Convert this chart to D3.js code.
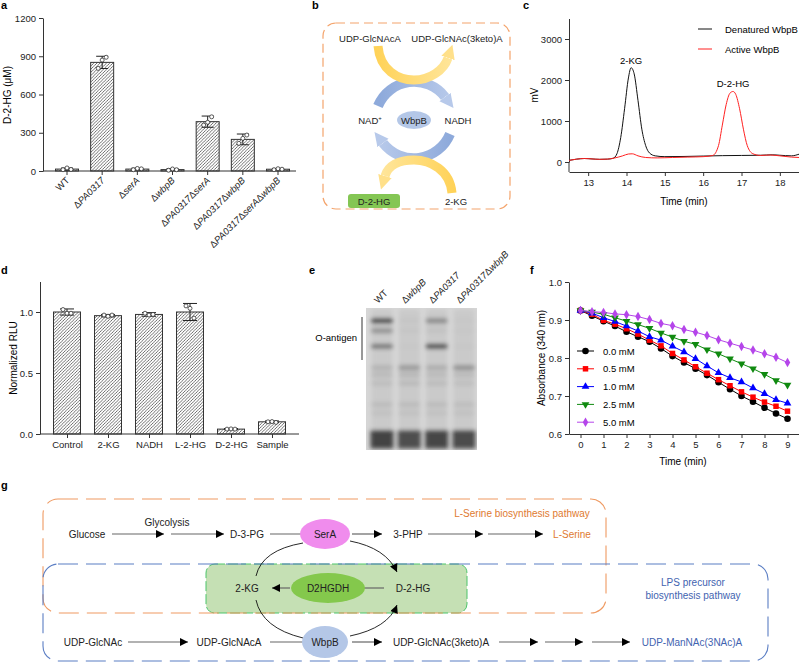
<!DOCTYPE html>
<html lang="en">
<head>
<meta charset="UTF-8">
<title>Figure</title>
<style>
  body, html { margin: 0; padding: 0; background: #fff; }
  svg { display: block; font-family: Arial, "Liberation Sans", Helvetica, sans-serif; }
  .axis path, .axis line { stroke: #333; }
  .axis text { fill: #222; font-size: 9.5px; font-family: Arial, "Liberation Sans", sans-serif; }
  .plab { font-weight: bold; font-size: 11px; fill: #000; }
</style>
</head>
<body>
<svg id="svg" width="799" height="664"></svg>
<script src="https://d3js.org/d3.v7.min.js"></script>
<script>
// ---------- data ----------
// panel a
const strainsA = ['WT', 'ΔPA0317', 'ΔserA', 'ΔwbpB', 'ΔPA0317ΔserA', 'ΔPA0317ΔwbpB', 'ΔPA0317ΔserAΔwbpB']
const d2hgMean = [15, 852, 15, 11, 387, 248, 14]
const d2hgSd = [8, 48, 7, 7, 44, 42, 6]
const d2hgPts = [[10, 24, 12], [805, 870, 892], [10, 20, 17], [6, 16, 10], [360, 382, 425], [217, 256, 282], [10, 18, 14]]
const d2hgTicks = [0, 300, 600, 900, 1200]

// panel c
const timeDen = [12.5, 12.7, 12.9, 13.1, 13.3, 13.5, 13.65, 13.75, 13.85, 13.95, 14.05, 14.12, 14.2, 14.3, 14.4, 14.5, 14.6, 14.75, 15.0, 15.5, 16.0, 16.5, 17.0, 17.5, 17.8, 18.0, 18.3, 18.5]
const mvDen = [40, 70, 85, 75, 65, 70, 90, 200, 600, 1300, 2050, 2300, 2150, 1500, 800, 400, 220, 150, 130, 135, 145, 155, 160, 165, 175, 165, 150, 190]
const timeAct = [12.5, 12.7, 12.9, 13.1, 13.3, 13.5, 13.7, 13.9, 14.05, 14.15, 14.3, 14.5, 14.8, 15.2, 15.6, 16.0, 16.25, 16.4, 16.5, 16.6, 16.7, 16.78, 16.85, 16.95, 17.05, 17.15, 17.3, 17.5, 17.75, 18.0, 18.3, 18.5]
const mvAct = [40, 70, 85, 75, 65, 70, 100, 150, 195, 200, 150, 110, 100, 110, 120, 130, 160, 400, 900, 1400, 1680, 1720, 1650, 1300, 800, 400, 200, 160, 170, 150, 120, 110]
const mvTicks = [0, 1000, 2000, 3000]
const timeTicksC = [13, 14, 15, 16, 17, 18]

// panel d
const rluGroups = ['Control', '2-KG', 'NADH', 'L-2-HG', 'D-2-HG', 'Sample']
const rluMean = [1.0, 0.97, 0.98, 1.0, 0.04, 0.1]
const rluSd = [0.025, 0.01, 0.015, 0.07, 0.005, 0.007]
const rluPts = [[1.02, 0.99, 0.99], [0.975, 0.965, 0.975], [0.99, 0.975, 0.98], [1.05, 1.03, 0.95], [0.04, 0.042, 0.04], [0.1, 0.102, 0.095]]
const rluTicks = [0, 0.5, 1.0]

// panel e (gel): band position (fraction of lane from the well) and darkness for each lane
const gelLanes = ['WT', 'ΔwbpB', 'ΔPA0317', 'ΔPA0317ΔwbpB']
const bandPos = [0.09, 0.16, 0.27, 0.42, 0.47, 0.53, 0.68, 0.74]
const bandWT = [0.8, 0.35, 0.5, 0.14, 0.1, 0.08, 0.09, 0.06]
const bandWbpB = [0.03, 0.03, 0.02, 0.3, 0.12, 0.1, 0.09, 0.06]
const bandPA = [0.4, 0.05, 0.75, 0.18, 0.1, 0.09, 0.09, 0.06]
const bandPAwbpB = [0.02, 0.02, 0.02, 0.35, 0.1, 0.07, 0.08, 0.06]
const blobDark = [0.85, 0.78, 0.82, 0.8]

// panel f
const timeF = [0, 0.5, 1, 1.5, 2, 2.5, 3, 3.5, 4, 4.5, 5, 5.5, 6, 6.5, 7, 7.5, 8, 8.5, 9]
const abs00 = [0.925, 0.911, 0.897, 0.884, 0.869, 0.856, 0.843, 0.825, 0.805, 0.788, 0.772, 0.755, 0.736, 0.718, 0.700, 0.685, 0.669, 0.654, 0.640]
const abs05 = [0.925, 0.915, 0.899, 0.889, 0.877, 0.863, 0.847, 0.832, 0.812, 0.795, 0.777, 0.760, 0.743, 0.727, 0.711, 0.697, 0.684, 0.673, 0.660]
const abs10 = [0.925, 0.918, 0.906, 0.896, 0.884, 0.871, 0.856, 0.847, 0.831, 0.816, 0.798, 0.779, 0.761, 0.748, 0.737, 0.721, 0.706, 0.690, 0.681]
const abs25 = [0.925, 0.921, 0.915, 0.906, 0.897, 0.888, 0.878, 0.866, 0.855, 0.844, 0.836, 0.822, 0.811, 0.798, 0.785, 0.772, 0.757, 0.741, 0.729]
const abs50 = [0.925, 0.922, 0.920, 0.916, 0.914, 0.909, 0.901, 0.891, 0.885, 0.875, 0.868, 0.859, 0.848, 0.839, 0.830, 0.821, 0.811, 0.802, 0.788]
const concLabels = ['0.0 mM', '0.5 mM', '1.0 mM', '2.5 mM', '5.0 mM']
const absTicks = [0.6, 0.7, 0.8, 0.9, 1.0]
const timeTicksF = [0, 1, 2, 3, 4, 5, 6, 7, 8, 9]

const svg = d3.select('#svg')
const defs = svg.append('defs')

// hatch pattern for bars
defs.append('pattern')
  .attr('id', 'hatch')
  .attr('patternUnits', 'userSpaceOnUse')
  .attr('width', 3.2).attr('height', 3.2)
  .append('path')
  .attr('d', 'M-0.8,0.8 l1.6,-1.6 M0,3.2 l3.2,-3.2 M2.4,4 l1.6,-1.6')
  .attr('stroke', '#333').attr('stroke-width', 0.7)

function marker(id, color, w, h, units) {
  defs.append('marker')
    .attr('id', id)
    .attr('viewBox', '0 0 10 10')
    .attr('refX', units ? 0 : 10).attr('refY', 5)
    .attr('markerWidth', w).attr('markerHeight', h)
    .attr('markerUnits', 'userSpaceOnUse')
    .attr('orient', 'auto')
    .append('path').attr('d', 'M0,0 L10,5 L0,10 z').attr('fill', color)
}
marker('tri', '#000', 9, 8, false)
marker('yel', '#ffe08a', 14, 20, true)
marker('blu', '#b7c9ea', 14, 20, true)

function grad(id, x1, y1, x2, y2, c1, c2) {
  const g = defs.append('linearGradient').attr('id', id)
    .attr('gradientUnits', 'userSpaceOnUse')
    .attr('x1', x1).attr('y1', y1).attr('x2', x2).attr('y2', y2)
  g.append('stop').attr('offset', 0).attr('stop-color', c1)
  g.append('stop').attr('offset', 1).attr('stop-color', c2)
}

defs.append('filter').attr('id', 'blur')
  .attr('x', '-20%').attr('y', '-20%').attr('width', '140%').attr('height', '140%')
  .append('feGaussianBlur').attr('stdDeviation', 2)

// label helper: Δ normal, gene names italic
function geneLabel(sel, s) {
  if (s === 'WT') { sel.text(s); return }
  s.split('Δ').filter(p => p).forEach(p => {
    sel.append('tspan').text('Δ')
    sel.append('tspan').style('font-style', 'italic').text(p)
  })
}

// panel labels
const panelLabels = [['a', 1, 9], ['b', 312, 9], ['c', 523, 9], ['d', 1, 274], ['e', 309, 274], ['f', 530, 274], ['g', 1, 489]]
svg.selectAll('.plab').data(panelLabels).enter().append('text')
  .attr('class', 'plab').attr('x', d => d[1]).attr('y', d => d[2]).text(d => d[0])

// ---------- panel a ----------
{
  const y = d3.scaleLinear().domain([0, 1200]).range([171, 18])
  const x = d3.scalePoint().domain(strainsA).range([67, 278])
  const bw = 23
  const g = svg.append('g')
  g.append('g').attr('class', 'axis').attr('transform', 'translate(43,0)')
    .call(d3.axisLeft(y).tickValues(d2hgTicks).tickFormat(d3.format('d')).tickSize(4).tickSizeOuter(0))
  g.append('line').attr('x1', 43).attr('x2', 296).attr('y1', 171).attr('y2', 171).attr('stroke', '#333')
  g.selectAll('.tk').data(strainsA).enter().append('line')
    .attr('x1', d => x(d)).attr('x2', d => x(d)).attr('y1', 171).attr('y2', 175).attr('stroke', '#333')
  g.selectAll('.bar').data(strainsA).enter().append('rect')
    .attr('x', d => x(d) - bw / 2).attr('width', bw)
    .attr('y', (d, i) => y(d2hgMean[i])).attr('height', (d, i) => 171 - y(d2hgMean[i]))
    .attr('fill', 'url(#hatch)').attr('stroke', '#333').attr('stroke-width', 1)
  strainsA.forEach((s, i) => {
    const cx = x(s), hi = y(d2hgMean[i] + d2hgSd[i]), lo = y(Math.max(0, d2hgMean[i] - d2hgSd[i]))
    g.append('line').attr('x1', cx).attr('x2', cx).attr('y1', hi).attr('y2', lo).attr('stroke', '#222')
    ;[hi, lo].forEach(v => g.append('line').attr('x1', cx - 6).attr('x2', cx + 6).attr('y1', v).attr('y2', v).attr('stroke', '#222'))
    d2hgPts[i].forEach((p, k) => g.append('circle').attr('cx', cx + (k - 1) * 4).attr('cy', y(p)).attr('r', 2)
      .attr('fill', '#fff').attr('stroke', '#333').attr('stroke-width', 0.8))
  })
  strainsA.forEach(s => {
    const t = g.append('text').attr('font-size', 9.5).attr('fill', '#222').attr('text-anchor', 'end')
      .attr('transform', `translate(${x(s) + 3},${181}) rotate(-45)`)
    geneLabel(t, s)
  })
  g.append('text').attr('transform', 'translate(11,95) rotate(-90)').attr('text-anchor', 'middle')
    .attr('font-size', 10).text('D-2-HG (μM)')
}

// ---------- panel b ----------
{
  const g = svg.append('g')
  g.append('rect').attr('x', 323).attr('y', 23).attr('width', 187).attr('height', 186).attr('rx', 13)
    .attr('fill', 'none').attr('stroke', '#f4a46c').attr('stroke-width', 1.2).attr('stroke-dasharray', '9,5')
  grad('gY1', 375, 0, 455, 0, '#ffd257', '#ffe69c')
  grad('gY2', 455, 0, 380, 0, '#ffd257', '#ffe69c')
  grad('gB1', 380, 0, 450, 0, '#8eaadb', '#b7c9ea')
  grad('gB2', 450, 0, 380, 0, '#8eaadb', '#b7c9ea')
  g.append('path').attr('d', 'M378,106 A39,39 0 0 1 445,97').attr('fill', 'none')
    .attr('stroke', 'url(#gB1)').attr('stroke-width', 10).attr('marker-end', 'url(#blu)')
  g.append('path').attr('d', 'M450,134 A39,39 0 0 1 383,143').attr('fill', 'none')
    .attr('stroke', 'url(#gB2)').attr('stroke-width', 10).attr('marker-end', 'url(#blu)')
  g.append('path').attr('d', 'M378,46 C380,70 398,80 414,80 C430,80 444,70 448,58').attr('fill', 'none')
    .attr('stroke', 'url(#gY1)').attr('stroke-width', 9).attr('marker-end', 'url(#yel)')
  g.append('path').attr('d', 'M452,193 C450,170 430,160 414,160 C398,160 388,166 385,176').attr('fill', 'none')
    .attr('stroke', 'url(#gY2)').attr('stroke-width', 9).attr('marker-end', 'url(#yel)')
  g.append('ellipse').attr('cx', 414).attr('cy', 120).attr('rx', 17).attr('ry', 9).attr('fill', '#b4c7e7')
  g.append('rect').attr('x', 348).attr('y', 194).attr('width', 52).attr('height', 14).attr('rx', 3).attr('fill', '#84c654')
  const txt = [['UDP-GlcNAcA', 370, 42], ['UDP-GlcNAc(3keto)A', 457, 42], ['WbpB', 414, 123.5], ['NADH', 458, 123.5], ['D-2-HG', 374, 204.5], ['2-KG', 456, 204.5]]
  g.selectAll('.bt').data(txt).enter().append('text').attr('x', d => d[1]).attr('y', d => d[2])
    .attr('text-anchor', 'middle').attr('font-size', 9.5).attr('fill', '#222').text(d => d[0])
  const nad = g.append('text').attr('x', 370).attr('y', 123.5).attr('text-anchor', 'middle').attr('font-size', 9.5).attr('fill', '#222')
  nad.append('tspan').text('NAD')
  nad.append('tspan').attr('font-size', 6).attr('dy', -4).text('+')
}

// ---------- panel c ----------
{
  const x = d3.scaleLinear().domain([12.5, 18.5]).range([569, 799])
  const y = d3.scaleLinear().domain([0, 3500]).range([162, 18.5])
  const g = svg.append('g')
  g.append('g').attr('class', 'axis').attr('transform', 'translate(569,0)')
    .call(d3.axisLeft(y).tickValues(mvTicks).tickFormat(d3.format('d')).tickSize(4).tickSizeOuter(0))
  g.append('line').attr('x1', 569).attr('x2', 569).attr('y1', 162).attr('y2', 172).attr('stroke', '#333')
  g.append('g').attr('class', 'axis').attr('transform', 'translate(0,172)')
    .call(d3.axisBottom(x).tickValues(timeTicksC).tickFormat(d3.format('d')).tickSize(4).tickSizeOuter(0))
  const line = d3.line().x(d => x(d[0])).y(d => y(d[1])).curve(d3.curveMonotoneX)
  g.append('path').attr('d', line(timeDen.map((t, i) => [t, mvDen[i]]))).attr('fill', 'none').attr('stroke', '#111').attr('stroke-width', 1)
  g.append('path').attr('d', line(timeAct.map((t, i) => [t, mvAct[i]]))).attr('fill', 'none').attr('stroke', '#ff2020').attr('stroke-width', 1)
  g.append('text').attr('x', x(14.12)).attr('y', 64).attr('text-anchor', 'middle').attr('font-size', 9.5).text('2-KG')
  g.append('text').attr('x', x(16.78)).attr('y', 87).attr('text-anchor', 'middle').attr('font-size', 9.5).text('D-2-HG')
  g.append('line').attr('x1', 698).attr('x2', 712).attr('y1', 29).attr('y2', 29).attr('stroke', '#111')
  g.append('text').attr('x', 725).attr('y', 32.5).attr('font-size', 9.5).text('Denatured WbpB')
  g.append('line').attr('x1', 698).attr('x2', 712).attr('y1', 49).attr('y2', 49).attr('stroke', '#ff2020')
  g.append('text').attr('x', 725).attr('y', 52.5).attr('font-size', 9.5).text('Active WbpB')
  g.append('text').attr('transform', 'translate(538,95) rotate(-90)').attr('text-anchor', 'middle').attr('font-size', 10).text('mV')
  g.append('text').attr('x', x(15.5)).attr('y', 205).attr('text-anchor', 'middle').attr('font-size', 10).text('Time (min)')
}

// ---------- panel d ----------
{
  const y = d3.scaleLinear().domain([0, 1.25]).range([434, 281.5])
  const x = d3.scalePoint().domain(rluGroups).range([67, 272])
  const bw = 27
  const g = svg.append('g')
  g.append('g').attr('class', 'axis').attr('transform', 'translate(40,0)')
    .call(d3.axisLeft(y).tickValues(rluTicks).tickFormat(d3.format('.1f')).tickSize(4).tickSizeOuter(0))
  g.append('line').attr('x1', 40).attr('x2', 299).attr('y1', 434).attr('y2', 434).attr('stroke', '#333')
  g.append('g').attr('class', 'axis').attr('transform', 'translate(0,434)')
    .call(d3.axisBottom(x).tickSize(4).tickSizeOuter(0))
    .call(a => a.select('.domain').remove())
  g.selectAll('.bar').data(rluGroups).enter().append('rect')
    .attr('x', d => x(d) - bw / 2).attr('width', bw)
    .attr('y', (d, i) => y(rluMean[i])).attr('height', (d, i) => 434 - y(rluMean[i]))
    .attr('fill', 'url(#hatch)').attr('stroke', '#333').attr('stroke-width', 1)
  rluGroups.forEach((s, i) => {
    const cx = x(s), hi = y(rluMean[i] + rluSd[i]), lo = y(rluMean[i] - rluSd[i])
    g.append('line').attr('x1', cx).attr('x2', cx).attr('y1', hi).attr('y2', lo).attr('stroke', '#222')
    ;[hi, lo].forEach(v => g.append('line').attr('x1', cx - 7).attr('x2', cx + 7).attr('y1', v).attr('y2', v).attr('stroke', '#222'))
    rluPts[i].forEach((p, k) => g.append('circle').attr('cx', cx + (k - 1) * 4).attr('cy', y(p)).attr('r', 2)
      .attr('fill', '#fff').attr('stroke', '#333').attr('stroke-width', 0.8))
  })
  g.append('text').attr('transform', 'translate(17,358) rotate(-90)').attr('text-anchor', 'middle')
    .attr('font-size', 10).text('Normalized RLU')
}

// ---------- panel e ----------
{
  const gy = d3.scaleLinear().domain([0, 1]).range([308, 450])
  const x = d3.scalePoint().domain(gelLanes).range([382, 464])
  const lw = 21
  const lanesData = [bandWT, bandWbpB, bandPA, bandPAwbpB]
  const g = svg.append('g')
  g.append('rect').attr('x', 366).attr('y', gy(0)).attr('width', 111).attr('height', gy(1) - gy(0)).attr('fill', '#d6d6d6')
  g.append('clipPath').attr('id', 'gelclip').append('rect')
    .attr('x', 366).attr('y', gy(0)).attr('width', 111).attr('height', gy(1) - gy(0))
  const gb = g.append('g').attr('clip-path', 'url(#gelclip)').append('g').attr('filter', 'url(#blur)')
  gelLanes.forEach((ln, li) => {
    const cx = x(ln)
    gb.append('rect').attr('x', cx - lw / 2).attr('y', gy(0.01)).attr('width', lw).attr('height', gy(0.99) - gy(0.01))
      .attr('fill', '#b8b8b8').attr('opacity', 0.4)
    bandPos.forEach((p, k) => {
      const v = lanesData[li][k]
      if (v <= 0) return
      gb.append('rect').attr('x', cx - lw / 2).attr('y', gy(p) - 2.5).attr('width', lw).attr('height', 5)
        .attr('fill', '#1a1a1a').attr('opacity', v)
    })
    gb.append('rect').attr('x', cx - lw / 2 - 1).attr('y', gy(0.86)).attr('width', lw + 2).attr('height', gy(0.99) - gy(0.86))
      .attr('fill', '#2a2a2a').attr('opacity', blobDark[li])
  })
  gelLanes.forEach(ln => {
    const t = g.append('text').attr('font-size', 9.5).attr('fill', '#222')
      .attr('transform', `translate(${x(ln) - 4},${304}) rotate(-45)`)
    geneLabel(t, ln)
  })
  g.append('line').attr('x1', 362).attr('x2', 362).attr('y1', 317).attr('y2', 360).attr('stroke', '#333')
  g.append('text').attr('x', 357).attr('y', 341).attr('text-anchor', 'end').attr('font-size', 9.5).text('O-antigen')
}

// ---------- panel f ----------
{
  const x = d3.scaleLinear().domain([-0.5, 9.5]).range([569, 799])
  const y = d3.scaleLinear().domain([0.6, 1.0]).range([434, 282])
  const g = svg.append('g')
  g.append('g').attr('class', 'axis').attr('transform', 'translate(569,0)')
    .call(d3.axisLeft(y).tickValues(absTicks).tickFormat(d3.format('.1f')).tickSize(4).tickSizeOuter(0))
  g.append('g').attr('class', 'axis').attr('transform', 'translate(0,434)')
    .call(d3.axisBottom(x).tickValues(timeTicksF).tickFormat(d3.format('d')).tickSize(4).tickSizeOuter(0))
  const series = [abs00, abs05, abs10, abs25, abs50]
  const colors = ['#000000', '#ff0000', '#0000ff', '#108a10', '#b545ea']
  const shapes = [d3.symbolCircle, d3.symbolSquare, d3.symbolTriangle, d3.symbolTriangle, d3.symbolDiamond]
  const rot = [0, 0, 0, 180, 0]
  const sizes = [34, 30, 26, 26, 26]
  const line = d3.line().x(d => x(d[0])).y(d => y(d[1]))
  series.forEach((s, i) => {
    const pts = timeF.map((t, k) => [t, s[k]])
    g.append('path').attr('d', line(pts)).attr('fill', 'none').attr('stroke', colors[i]).attr('stroke-width', 1)
    g.selectAll('.m' + i).data(pts).enter().append('path')
      .attr('d', d3.symbol().type(shapes[i]).size(sizes[i]))
      .attr('transform', d => `translate(${x(d[0])},${y(d[1])}) rotate(${rot[i]})`)
      .attr('fill', colors[i])
  })
  concLabels.forEach((c, i) => {
    const ly = 351 + i * 17.8
    g.append('line').attr('x1', 577).attr('x2', 594).attr('y1', ly).attr('y2', ly).attr('stroke', colors[i])
    g.append('path').attr('d', d3.symbol().type(shapes[i]).size(sizes[i]))
      .attr('transform', `translate(585.5,${ly}) rotate(${rot[i]})`).attr('fill', colors[i])
    g.append('text').attr('x', 603).attr('y', ly + 3.5).attr('font-size', 9.5).text(c)
  })
  g.append('text').attr('transform', 'translate(545,358) rotate(-90)').attr('text-anchor', 'middle')
    .attr('font-size', 10).text('Absorbance (340 nm)')
  g.append('text').attr('x', 683).attr('y', 465).attr('text-anchor', 'middle').attr('font-size', 10).text('Time (min)')
}

// ---------- panel g ----------
{
  const g = svg.append('g')
  g.append('rect').attr('x', 206).attr('y', 564).attr('width', 261).attr('height', 49).attr('rx', 9)
    .attr('fill', '#c5e0b4').attr('stroke', '#4cc46a').attr('stroke-width', 1).attr('stroke-dasharray', '10,3')
  g.append('rect').attr('x', 43).attr('y', 499).attr('width', 563).attr('height', 114).attr('rx', 15)
    .attr('fill', 'none').attr('stroke', '#ef9a62').attr('stroke-width', 1.1).attr('stroke-dasharray', '20,8')
  g.append('rect').attr('x', 43).attr('y', 564).attr('width', 725).attr('height', 97).attr('rx', 15)
    .attr('fill', 'none').attr('stroke', '#5b7ec4').attr('stroke-width', 1.1).attr('stroke-dasharray', '20,8')

  const arrows = [
    [112, 164, 534, true], [171, 224, 534, true], [270, 305, 534, false], [352, 382, 534, true],
    [428, 483, 534, true], [488, 543, 534, true],
    [364, 384, 588, false], [290, 272, 588, true],
    [128, 188, 642, true], [270, 305, 642, false], [352, 382, 642, true],
    [499, 538, 642, true], [545, 583, 642, true], [592, 630, 642, true]
  ]
  arrows.forEach(a => {
    g.append('line').attr('x1', a[0]).attr('x2', a[1]).attr('y1', a[2]).attr('y2', a[2])
      .attr('stroke', '#666').attr('stroke-width', 1.2).attr('marker-end', a[3] ? 'url(#tri)' : null)
  })
  const curves = [
    ['M256,576 Q262,550 303,543', false], ['M350,541 Q386,548 397,572', true],
    ['M256,600 Q262,628 303,638', false], ['M350,636 Q388,628 397,605', true]
  ]
  curves.forEach(c => g.append('path').attr('d', c[0]).attr('fill', 'none').attr('stroke', '#111')
    .attr('stroke-width', 0.9).attr('marker-end', c[1] ? 'url(#tri)' : null))

  g.append('ellipse').attr('cx', 325).attr('cy', 534).attr('rx', 25).attr('ry', 15).attr('fill', '#f08ced')
  g.append('ellipse').attr('cx', 328).attr('cy', 588).attr('rx', 37).attr('ry', 15).attr('fill', '#84c84c')
  g.append('ellipse').attr('cx', 325).attr('cy', 642).attr('rx', 23).attr('ry', 16).attr('fill', '#b4c7e7')

  const texts = [
    ['Glucose', 87, 537.5, '#222'], ['Glycolysis', 167, 526, '#222'], ['D-3-PG', 247, 537.5, '#222'],
    ['SerA', 325, 537.5, '#222'], ['3-PHP', 408, 537.5, '#222'], ['L-Serine', 572, 537.5, '#e07a30'],
    ['L-Serine biosynthesis pathway', 522, 517, '#e07a30'],
    ['2-KG', 247, 591.5, '#222'], ['D2HGDH', 328, 591.5, '#222'], ['D-2-HG', 413, 591.5, '#222'],
    ['LPS precursor', 693, 586, '#3f63b0'], ['biosynthesis pathway', 693, 599, '#3f63b0'],
    ['UDP-GlcNAc', 93, 645.5, '#222'], ['UDP-GlcNAcA', 229, 645.5, '#222'], ['WbpB', 325, 645.5, '#222'],
    ['UDP-GlcNAc(3keto)A', 441, 645.5, '#222'], ['UDP-ManNAc(3NAc)A', 692, 645.5, '#3f63b0']
  ]
  g.selectAll('.gt').data(texts).enter().append('text')
    .attr('x', d => d[1]).attr('y', d => d[2]).attr('fill', d => d[3])
    .attr('text-anchor', 'middle').attr('font-size', 10).text(d => d[0])
}
</script>
</body>
</html>
